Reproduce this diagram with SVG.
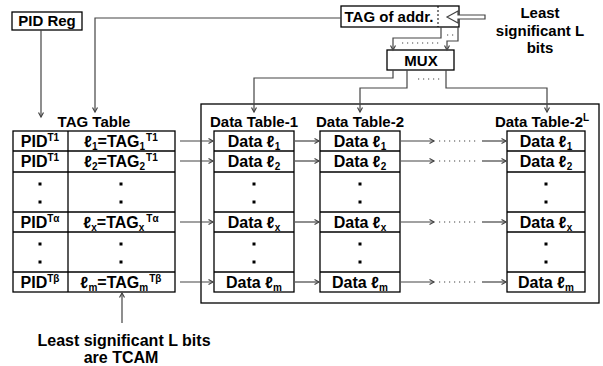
<svg xmlns="http://www.w3.org/2000/svg" width="603" height="366" viewBox="0 0 603 366">
<style>
text{font-family:"Liberation Sans",Arial,sans-serif;font-weight:bold;font-size:15px;fill:#000}
.c{text-anchor:middle}
.cell{font-size:16px}
.box{fill:#fff;stroke:#000;stroke-width:1.3}
.ln{fill:none;stroke:#444;stroke-width:1.2}
.dot{fill:none;stroke:#444;stroke-width:1.2;stroke-dasharray:1.2 3.8}
.sm{font-size:10px}
.cd{fill:#000}
</style>
<defs>
<marker id="ah" markerWidth="8" markerHeight="8" refX="6" refY="4" orient="auto" markerUnits="userSpaceOnUse">
<path d="M1.5,1.5 L6,4 L1.5,6.5" fill="none" stroke="#444" stroke-width="1.2"/>
</marker>
<g id="dots2"><rect x="-1.5" y="0.5" width="3" height="3" class="cd"/><rect x="-1.5" y="18.5" width="3" height="3" class="cd"/></g>
</defs>

<g id="pid-reg">
<rect class="box" x="12" y="12" width="70" height="18"/>
<text class="c" x="47" y="26">PID Reg</text>
</g>

<g id="tag-of-addr">
<rect class="box" x="341" y="6" width="118" height="21"/>
<line x1="438" y1="6" x2="438" y2="27" stroke="#000" stroke-width="1" stroke-dasharray="2 2"/>
<text class="c" x="389" y="22">TAG of addr.</text>
<polygon points="447,17 458,11 458,15 485,15 485,19 458,19 458,23" fill="#fff" stroke="#444" stroke-width="1.2"/>
</g>

<g id="lsb-label">
<text class="c" x="540" y="18">Least</text>
<text class="c" x="540" y="36">significant L</text>
<text class="c" x="540" y="53">bits</text>
</g>

<g id="mux">
<rect class="box" x="387" y="50" width="67" height="20"/>
<text class="c" x="421" y="66">MUX</text>
</g>

<g id="tag-table">
<text class="c" x="94" y="127">TAG Table</text>
<rect class="box" x="13" y="131" width="162" height="161"/>
<g stroke="#000" stroke-width="1.3">
<line x1="68" y1="131" x2="68" y2="292"/>
<line x1="13" y1="151" x2="175" y2="151"/>
<line x1="13" y1="172" x2="175" y2="172"/>
<line x1="13" y1="212" x2="175" y2="212"/>
<line x1="13" y1="232" x2="175" y2="232"/>
<line x1="13" y1="272" x2="175" y2="272"/>
</g>
<text class="c cell" x="40" y="147">PID<tspan class="sm" dy="-6">T1</tspan></text>
<text class="c cell" x="40" y="167">PID<tspan class="sm" dy="-6">T1</tspan></text>
<text class="c cell" x="40" y="228">PID<tspan class="sm" dy="-6">Tα</tspan></text>
<text class="c cell" x="40" y="288">PID<tspan class="sm" dy="-6">Tβ</tspan></text>
<text class="c cell" x="121" y="147">ℓ<tspan class="sm" dy="3">1</tspan><tspan dy="-3">=TAG</tspan><tspan class="sm" dy="3">1</tspan><tspan class="sm" dy="-9" dx="1">T1</tspan></text>
<text class="c cell" x="121" y="167">ℓ<tspan class="sm" dy="3">2</tspan><tspan dy="-3">=TAG</tspan><tspan class="sm" dy="3">2</tspan><tspan class="sm" dy="-9" dx="1">T1</tspan></text>
<text class="c cell" x="121" y="228">ℓ<tspan class="sm" dy="3">x</tspan><tspan dy="-3">=TAG</tspan><tspan class="sm" dy="3">x</tspan><tspan class="sm" dy="-9" dx="2">Tα</tspan></text>
<text class="c cell" x="121" y="288">ℓ<tspan class="sm" dy="3">m</tspan><tspan dy="-3">=TAG</tspan><tspan class="sm" dy="3">m</tspan><tspan class="sm" dy="-9" dx="1">Tβ</tspan></text>
<use href="#dots2" x="40" y="182"/>
<use href="#dots2" x="121" y="182"/>
<use href="#dots2" x="40" y="242"/>
<use href="#dots2" x="121" y="242"/>
</g>

<g id="data-area">
<rect x="201" y="104" width="398" height="199" fill="none" stroke="#000" stroke-width="1.3"/>
</g>

<g id="data-table-1">
<text class="c" x="254" y="127">Data Table-1</text>
<rect class="box" x="214" y="131" width="80" height="161"/>
<g stroke="#000" stroke-width="1.3">
<line x1="214" y1="151" x2="294" y2="151"/><line x1="214" y1="172" x2="294" y2="172"/>
<line x1="214" y1="212" x2="294" y2="212"/><line x1="214" y1="232" x2="294" y2="232"/>
<line x1="214" y1="272" x2="294" y2="272"/>
</g>
<text class="c cell" x="254" y="147">Data ℓ<tspan class="sm" dy="3">1</tspan></text>
<text class="c cell" x="254" y="167">Data ℓ<tspan class="sm" dy="3">2</tspan></text>
<text class="c cell" x="254" y="228">Data ℓ<tspan class="sm" dy="3">x</tspan></text>
<text class="c cell" x="254" y="288">Data ℓ<tspan class="sm" dy="3">m</tspan></text>
<use href="#dots2" x="254" y="182"/><use href="#dots2" x="254" y="242"/>
</g>

<g id="data-table-2">
<text class="c" x="360" y="127">Data Table-2</text>
<rect class="box" x="320" y="131" width="80" height="161"/>
<g stroke="#000" stroke-width="1.3">
<line x1="320" y1="151" x2="400" y2="151"/><line x1="320" y1="172" x2="400" y2="172"/>
<line x1="320" y1="212" x2="400" y2="212"/><line x1="320" y1="232" x2="400" y2="232"/>
<line x1="320" y1="272" x2="400" y2="272"/>
</g>
<text class="c cell" x="360" y="147">Data ℓ<tspan class="sm" dy="3">1</tspan></text>
<text class="c cell" x="360" y="167">Data ℓ<tspan class="sm" dy="3">2</tspan></text>
<text class="c cell" x="360" y="228">Data ℓ<tspan class="sm" dy="3">x</tspan></text>
<text class="c cell" x="360" y="288">Data ℓ<tspan class="sm" dy="3">m</tspan></text>
<use href="#dots2" x="360" y="182"/><use href="#dots2" x="360" y="242"/>
</g>

<g id="data-table-2L">
<text class="c" x="542" y="127">Data Table-2<tspan class="sm" dy="-6">L</tspan></text>
<rect class="box" x="507" y="131" width="78" height="161"/>
<g stroke="#000" stroke-width="1.3">
<line x1="507" y1="151" x2="585" y2="151"/><line x1="507" y1="172" x2="585" y2="172"/>
<line x1="507" y1="212" x2="585" y2="212"/><line x1="507" y1="232" x2="585" y2="232"/>
<line x1="507" y1="272" x2="585" y2="272"/>
</g>
<text class="c cell" x="546" y="147">Data ℓ<tspan class="sm" dy="3">1</tspan></text>
<text class="c cell" x="546" y="167">Data ℓ<tspan class="sm" dy="3">2</tspan></text>
<text class="c cell" x="546" y="228">Data ℓ<tspan class="sm" dy="3">x</tspan></text>
<text class="c cell" x="546" y="288">Data ℓ<tspan class="sm" dy="3">m</tspan></text>
<use href="#dots2" x="546" y="182"/><use href="#dots2" x="546" y="242"/>
</g>

<g id="tcam-label">
<text class="c cell" x="124" y="346">Least significant L bits</text>
<text class="c cell" x="121" y="363">are TCAM</text>
</g>

<g id="connectors">
<path class="ln" d="M41,30 V117" marker-end="url(#ah)"/>
<path class="ln" d="M341,18 H95 V112" marker-end="url(#ah)"/>
<path class="ln" d="M441,27 V38 H393 V50" marker-end="url(#ah)"/>
<path class="ln" d="M458,27 V41 H447 V50" marker-end="url(#ah)"/>
<line class="dot" x1="402" y1="43" x2="441" y2="43"/>
<line class="dot" x1="447" y1="35" x2="457" y2="35"/>
<path class="ln" d="M393,70 V78 H254 V112" marker-end="url(#ah)"/>
<path class="ln" d="M407,70 V88 H360 V112" marker-end="url(#ah)"/>
<path class="ln" d="M446,70 V88 H547 V112" marker-end="url(#ah)"/>
<line class="dot" x1="418" y1="79" x2="441" y2="79"/>
<path class="ln" d="M122,323 V293" marker-end="url(#ah)"/>
<g id="row-arrows">
<path class="ln" d="M180,141 H213" marker-end="url(#ah)"/>
<path class="ln" d="M180,161 H213" marker-end="url(#ah)"/>
<path class="ln" d="M180,222 H213" marker-end="url(#ah)"/>
<path class="ln" d="M180,282 H213" marker-end="url(#ah)"/>
<path class="ln" d="M295,141 H319" marker-end="url(#ah)"/>
<path class="ln" d="M295,161 H319" marker-end="url(#ah)"/>
<path class="ln" d="M295,222 H319" marker-end="url(#ah)"/>
<path class="ln" d="M295,282 H319" marker-end="url(#ah)"/>
<path class="ln" d="M401,141 H434" marker-end="url(#ah)"/>
<path class="ln" d="M401,161 H434" marker-end="url(#ah)"/>
<path class="ln" d="M401,222 H434" marker-end="url(#ah)"/>
<path class="ln" d="M401,282 H434" marker-end="url(#ah)"/>
<line class="dot" x1="439" y1="141" x2="478" y2="141"/>
<line class="dot" x1="439" y1="161" x2="478" y2="161"/>
<line class="dot" x1="439" y1="222" x2="478" y2="222"/>
<line class="dot" x1="439" y1="282" x2="478" y2="282"/>
<path class="ln" d="M482,141 H506" marker-end="url(#ah)"/>
<path class="ln" d="M482,161 H506" marker-end="url(#ah)"/>
<path class="ln" d="M482,222 H506" marker-end="url(#ah)"/>
<path class="ln" d="M482,282 H506" marker-end="url(#ah)"/>
</g>
</g>
</svg>
